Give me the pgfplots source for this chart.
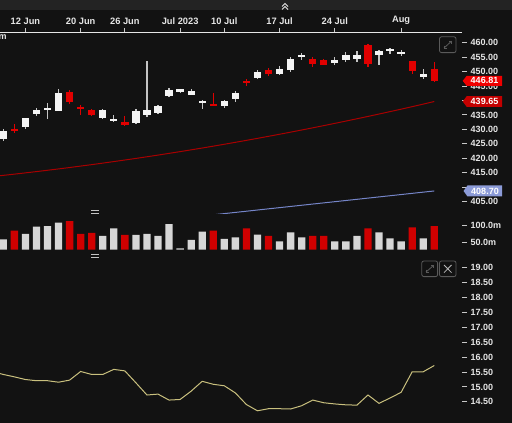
\documentclass[border=0pt]{standalone}
\usepackage{pgfplots}
\usepackage{pgfplotstable}
\pgfplotsset{compat=1.18}
\usepackage{fontspec}
\setmainfont{Liberation Sans}
\definecolor{bg}{HTML}{121212}
\definecolor{band}{HTML}{232323}
\definecolor{upc}{HTML}{F4F4F4}
\definecolor{wickup}{HTML}{C4C4C4}
\definecolor{dnc}{HTML}{E00000}
\definecolor{vup}{HTML}{D6D6D6}
\definecolor{vdn}{HTML}{D00000}
\definecolor{maR}{HTML}{A80000}
\definecolor{maB}{HTML}{7585C8}
\definecolor{vixc}{HTML}{C9C07E}
\definecolor{lbl}{HTML}{E6E6E6}
\definecolor{tickc}{HTML}{C8C8C8}
\definecolor{flagA}{HTML}{F00000}
\definecolor{flagB}{HTML}{C40000}
\definecolor{flagC}{HTML}{8C9BD8}
\definecolor{icon}{HTML}{5A5A5A}

\pgfplotstableread{
i o h l c
0 426.7 430.0 425.9 429.4
2 430.9 434.0 430.1 433.9
3 435.3 437.4 434.6 436.8
4 437.0 439.2 433.6 437.2
5 436.4 443.9 436.2 442.7
9 434.0 436.9 433.6 436.8
10 433.1 435.1 432.5 433.4
12 432.3 437.0 431.8 436.3
13 435.1 453.7 434.4 436.6
14 435.8 438.5 435.5 438.1
15 441.4 444.3 441.1 443.5
16 442.9 444.1 442.6 443.9
17 441.9 443.9 441.8 443.4
18 439.4 440.1 437.1 439.7
20 438.2 440.2 437.5 439.9
21 440.5 443.2 439.5 442.7
23 447.8 450.4 447.4 449.8
25 449.1 451.9 449.0 450.9
26 450.4 455.0 449.7 454.5
27 455.3 456.6 454.1 455.6
30 453.1 455.1 452.4 454.1
31 454.1 456.8 453.3 455.7
32 454.2 457.0 453.3 455.7
34 455.9 457.6 452.4 457.1
35 457.4 458.0 456.1 457.8
36 456.3 457.4 455.5 456.5
38 448.0 450.9 447.3 449.2
}\upT
\pgfplotstableread{
i o h l c
1 430.0 432.0 428.9 429.9
6 443.0 443.7 438.9 439.5
7 437.5 438.3 435.0 437.2
8 436.6 437.0 434.5 435.1
11 432.7 434.6 431.3 431.5
19 438.7 442.7 438.3 438.5
22 446.6 447.6 444.9 446.2
24 450.6 451.4 448.5 449.1
28 454.4 455.1 451.5 452.5
29 454.0 454.3 452.2 452.4
33 459.1 459.6 451.6 452.5
37 453.5 453.7 449.3 450.2
39 450.9 453.2 446.3 446.81
}\dnT
\pgfplotstableread{
i v
-0.3 413.97
0 414.10
1 414.52
2 414.96
3 415.40
4 415.86
5 416.33
6 416.81
7 417.31
8 417.81
9 418.33
10 418.87
11 419.41
12 419.96
13 420.53
14 421.11
15 421.71
16 422.31
17 422.93
18 423.56
19 424.20
20 424.86
21 425.53
22 426.21
23 426.90
24 427.61
25 428.32
26 429.05
27 429.79
28 430.54
29 431.31
30 432.09
31 432.88
32 433.68
33 434.49
34 435.32
35 436.16
36 437.00
37 437.87
38 438.75
39 439.65
}\maRT
\pgfplotstableread{
i v
14 398.40
16 399.22
18 400.05
20 400.87
22 401.69
24 402.52
26 403.34
28 404.17
30 404.99
32 405.81
34 406.64
36 407.46
38 408.29
39 408.70
}\maBT
\pgfplotstableread{
i v
0 59
2 75
3 97
4 99
5 109
9 69
10 92
12 72
13 75
14 69
15 105
16 32
17 57
18 82
20 60
21 65
23 73
25 53
26 80
27 65
30 53
31 53
32 69
34 80
35 62
36 53
38 62
}\volU
\pgfplotstableread{
i v
1 85
6 114
7 75
8 78
11 72
19 85
22 92
24 69
28 69
29 69
33 92
37 95
39 99
}\volD
\pgfplotstableread{
i v
-0.3 15.45
0 15.42
1 15.34
2 15.25
3 15.21
4 15.21
5 15.16
6 15.23
7 15.52
8 15.42
9 15.42
10 15.59
11 15.54
12 15.14
13 14.73
14 14.76
15 14.56
16 14.58
17 14.86
18 15.19
19 15.09
20 15.04
21 14.80
22 14.41
23 14.20
24 14.27
25 14.27
26 14.26
27 14.37
28 14.56
29 14.47
30 14.43
31 14.40
32 14.39
33 14.73
34 14.45
35 14.63
36 14.82
37 15.51
38 15.51
39 15.72
}\vixT

\pgfplotsset{
  panel/.style={
    scale only axis, width=462pt,
    xmin=-0.2986, xmax=41.51,
    axis y line*=right,
    axis line style={draw=none},
    tick align=outside, major tick length=5pt,
    tick style={tickc, line width=1pt},
    yticklabel style={font=\bfseries\fontsize{9}{10}\selectfont, text=lbl, anchor=west},
    clip mode=individual,
    /pgf/number format/assume math mode=true,
  },
}

\begin{document}
\begin{tikzpicture}[x=1pt,y=1pt]
\fill[bg] (0,0) rectangle (512,-423);
\useasboundingbox (0,0) rectangle (512,-423);
\fill[band] (0,0) rectangle (512,-10);
\draw[lbl, line width=1pt] (282,-6.5)--(285,-3.5)--(288,-6.5);
\draw[lbl, line width=1pt] (282,-9.5)--(285,-6.5)--(288,-9.5);

% price panel
\begin{axis}[panel, at={(0pt,-33pt)}, anchor=north west, height=180.5pt,
  ymin=400.9, ymax=463.36,
  ytick={405,410,...,460},
  yticklabels={405.00,{},415.00,420.00,425.00,430.00,435.00,{},445.00,450.00,455.00,460.00},
  axis x line*=top,
  xtick={2,7,11,16,20,25,30,36},
  xticklabels={12 Jun,20 Jun,26 Jun,Jul 2023,10 Jul,17 Jul,24 Jul,Aug},
  xticklabel style={font=\bfseries\fontsize{9.3}{10}\selectfont, text=lbl},
]
\addplot[maR, line width=1pt] table[x=i,y=v]{\maRT};
\addplot[maB, line width=1pt] table[x=i,y=v]{\maBT};
\addplot[draw=none, error bars/.cd, y dir=both, y explicit, error mark=none,
  error bar style={draw=wickup, line width=1.2pt}]
  table[x=i, y expr={(\thisrow{h}+\thisrow{l})/2}, y error expr={(\thisrow{h}-\thisrow{l})/2}]{\upT};
\addplot[draw=none, error bars/.cd, y dir=both, y explicit, error mark=none,
  error bar style={draw=dnc, line width=1.2pt}]
  table[x=i, y expr={(\thisrow{h}+\thisrow{l})/2}, y error expr={(\thisrow{h}-\thisrow{l})/2}]{\dnT};
\addplot[draw=none, error bars/.cd, y dir=both, y explicit, error mark=none,
  error bar style={draw=upc, line width=7.3pt}]
  table[x=i, y expr={(\thisrow{o}+\thisrow{c})/2}, y error expr={max(abs(\thisrow{c}-\thisrow{o})/2,0.35)}]{\upT};
\addplot[draw=none, error bars/.cd, y dir=both, y explicit, error mark=none,
  error bar style={draw=dnc, line width=7.3pt}]
  table[x=i, y expr={(\thisrow{o}+\thisrow{c})/2}, y error expr={max(abs(\thisrow{c}-\thisrow{o})/2,0.35)}]{\dnT};
\coordinate (f1) at (axis cs:41.51,446.81);
\coordinate (f2) at (axis cs:41.51,439.65);
\coordinate (f3) at (axis cs:41.51,408.70);
\end{axis}
\draw[lbl, line width=1.3pt] (0,-32.3) -- (462,-32.3);

% volume panel
\begin{axis}[panel, at={(0pt,-213.5pt)}, anchor=north west, height=36.2pt,
  ymin=27.7, ymax=136.7, ytick={50,100}, yticklabels={50.0m,100.0m},
  xtick=\empty, clip mode=global]
\addplot[ybar, bar width=7.3pt, bar shift=0pt, fill=vup, draw=none] table[x=i,y=v]{\volU};
\addplot[ybar, bar width=7.3pt, bar shift=0pt, fill=vdn, draw=none] table[x=i,y=v]{\volD};
\end{axis}

% lower panel
\begin{axis}[panel, at={(0pt,-258pt)}, anchor=north west, height=165pt,
  ymin=13.79, ymax=19.33, ytick={14.5,15,...,19},
  yticklabel style={/pgf/number format/.cd, fixed, fixed zerofill, precision=2},
  xtick=\empty]
\addplot[vixc, line width=1pt] table[x=i,y=v]{\vixT};
\end{axis}

% flags
\begin{scope}[shift={(f1)}]
\fill[flagA] (0.7,0) -- (4.7,5) -- (40,5) -- (40,-5) -- (4.7,-5) -- cycle;
\node[font=\bfseries\fontsize{9}{10}\selectfont, text=white, inner sep=0] at (22.5,0) {446.81};
\end{scope}
\begin{scope}[shift={(f2)}]
\fill[flagB] (0.7,0) -- (4.7,5.3) -- (40,5.3) -- (40,-5.3) -- (4.7,-5.3) -- cycle;
\node[font=\bfseries\fontsize{9}{10}\selectfont, text=white, inner sep=0] at (22.5,0) {439.65};
\end{scope}
\begin{scope}[shift={(f3)}]
\fill[flagC] (1.5,0) -- (5.5,5.5) -- (40,5.5) -- (40,-5.5) -- (5.5,-5.5) -- cycle;
\node[font=\bfseries\fontsize{9}{10}\selectfont, text=white, inner sep=0] at (23,0) {408.70};
\end{scope}

% icons and separators
\node[anchor=west, inner sep=0, font=\bfseries\fontsize{9}{10}\selectfont, text=lbl] at (-1.5,-37.5) {m};
\draw[icon, line width=0.8pt, rounded corners=2pt] (439.5,-36.8) rectangle (456,-52.6);
\draw[icon, line width=0.8pt] (444,-48) -- (451.5,-41.2);
\draw[icon, line width=0.8pt] (449,-41.2)--(451.5,-41.2)--(451.5,-43.7);
\draw[icon, line width=0.8pt] (444,-45.5)--(444,-48)--(446.5,-48);
\draw[icon, line width=0.8pt, rounded corners=2pt] (421.8,-261) rectangle (437.6,-276.6);
\draw[icon, line width=0.8pt] (426,-272) -- (433.5,-265.5);
\draw[icon, line width=0.8pt] (431,-265.5)--(433.5,-265.5)--(433.5,-268);
\draw[icon, line width=0.8pt] (426,-269.5)--(426,-272)--(428.5,-272);
\draw[icon, line width=0.8pt, rounded corners=2pt] (439.5,-261) rectangle (456,-276.6);
\draw[lbl!80!black, line width=0.8pt] (444,-265)--(451.5,-272.6) (451.5,-265)--(444,-272.6);
\draw[lbl!85!black, line width=0.9pt] (91,-210.8)--(99,-210.8) (91,-213.2)--(99,-213.2);
\draw[lbl!85!black, line width=0.9pt] (91,-254.6)--(99,-254.6) (91,-257)--(99,-257);
\end{tikzpicture}
\end{document}
